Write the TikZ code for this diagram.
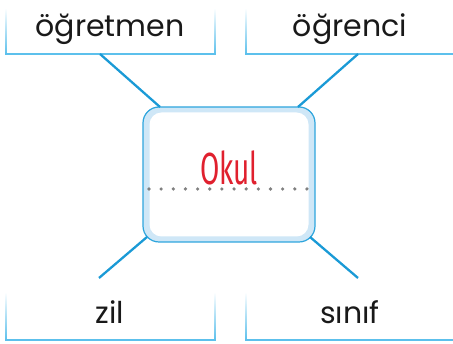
\documentclass[tikz,border=0pt]{standalone}
\usepackage{fontspec}
\setmainfont{Poppins}
\newfontfamily\okulfont{Fira Sans}[FakeStretch=0.62]
\definecolor{linkblue}{HTML}{1A9AD6}
\definecolor{boxblue}{HTML}{5CC0EC}
\definecolor{bandblue}{HTML}{CFE7F7}
\definecolor{okulred}{HTML}{E0202E}
\definecolor{dotgray}{HTML}{808080}
\tikzset{
  link/.style={draw=linkblue, line width=2.3pt},
  word/.style={font=\fontsize{30}{33}\selectfont, text=black!90, inner sep=0pt, anchor=base},
  baseline/.style={draw=boxblue, line width=1.4pt},
}
\begin{document}
\begin{tikzpicture}[x=1pt,y=-1pt]
\useasboundingbox (0,0) rectangle (453,344);
% top-left box
\shade[top color=white, bottom color=boxblue] (5.3,8) rectangle (6.7,54);
\shade[top color=white, bottom color=boxblue] (214.3,8) rectangle (215.7,54);
\draw[baseline] (5.3,54) -- (215.7,54);
\node[word] (w1) at (110,37) {öğretmen};
% top-right box
\shade[top color=white, bottom color=boxblue] (245.3,8) rectangle (246.7,54);
\draw[baseline] (245.3,54) -- (453,54);
\node[word] (w2) at (350,37) {öğrenci};
% bottom-left box
\shade[top color=white, bottom color=boxblue] (5.3,292) rectangle (6.7,340);
\shade[top color=white, bottom color=boxblue] (214.3,292) rectangle (215.7,340);
\draw[baseline] (5.3,340) -- (215.7,340);
\node[word] (w3) at (110,324) {zil};
% bottom-right box
\shade[top color=white, bottom color=boxblue] (245.3,292) rectangle (246.7,340);
\draw[baseline] (245.3,340) -- (453,340);
\node[word] (w4) at (350,324) {sınıf};
% central box
\node[draw=linkblue!70!boxblue, line width=1.2pt, fill=bandblue, rounded corners=16pt,
      minimum width=172pt, minimum height=135pt, inner sep=0pt] (c) at (229,174.5) {};
\node[fill=white, rounded corners=12pt, minimum width=159pt, minimum height=124pt,
      inner sep=0pt] (ci) at (c.center) {};
\coordinate (d1) at (149,189);
\coordinate (d2) at (307,189);
\draw[dotgray, line width=3.6pt, line cap=round, dash pattern=on 0pt off 12.15pt] (d1) -- (d2);
\node[font=\okulfont\fontsize{45}{48}\selectfont, text=okulred, inner sep=0pt, anchor=base] (ok) at (229,185) {Okul};
% connectors
\coordinate (a1) at (100,54);  \coordinate (b1) at (160,107);
\coordinate (a2) at (358,54);  \coordinate (b2) at (298,107);
\coordinate (a3) at (99,278);  \coordinate (b3) at (147,237);
\coordinate (a4) at (358,278); \coordinate (b4) at (310,237);
\draw[link] (a1) -- (b1);
\draw[link] (a2) -- (b2);
\draw[link] (a3) -- (b3);
\draw[link] (a4) -- (b4);
\end{tikzpicture}
\end{document}
